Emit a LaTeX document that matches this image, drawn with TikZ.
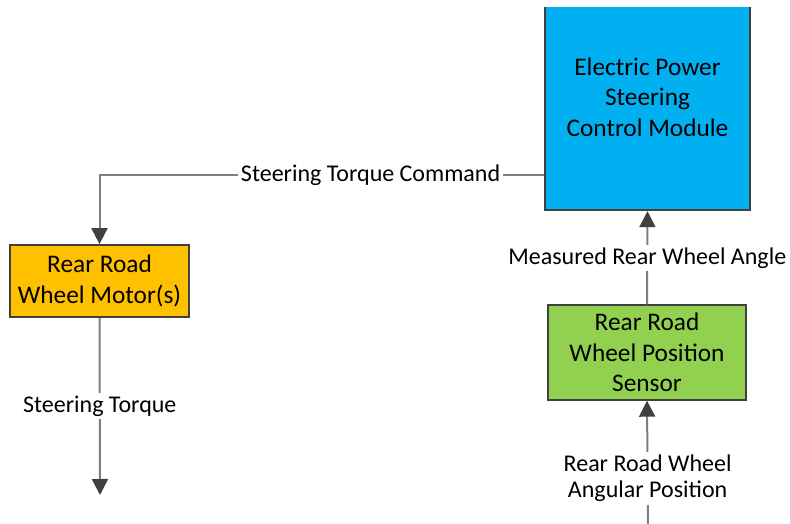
\documentclass[tikz,border=0pt]{standalone}
\usepackage{fontspec}
\setmainfont{Carlito}
\usepackage{xcolor}
\usetikzlibrary{arrows.meta,positioning,calc}

\definecolor{epsblue}{HTML}{00B0F0}
\definecolor{motororange}{HTML}{FFC000}
\definecolor{sensorgreen}{HTML}{92D050}
\definecolor{linegray}{HTML}{7F7F7F}
\definecolor{tipgray}{HTML}{404040}

\begin{document}
\begin{tikzpicture}[
  x=0.75pt, y=-0.75pt,
  box/.style={draw=tipgray, line width=1.3pt, align=center,
              inner sep=0pt, font=\fontsize{19}{23}\selectfont},
  arr/.style={-{Triangle[length=12pt, width=12pt, color=tipgray]},
              draw=linegray, line width=1.5pt},
  lbl/.style={fill=white, inner sep=2pt, align=center,
              font=\fontsize{18}{20}\selectfont}
]
\useasboundingbox (0,0) rectangle (790,524);

% control module (cropped at the top)
\begin{scope}
  \clip (0,8) rectangle (790,524);
  \node[box, fill=epsblue, minimum width=154pt, minimum height=170pt] (eps) at (647.5,97)
    {Electric Power \\ Steering \\ Control Module};
\end{scope}

\node[box, fill=motororange, minimum width=134pt, minimum height=54pt] (motor) at (99.5,281)
  {Rear Road \\ Wheel Motor(s)};
\node[box, fill=sensorgreen, minimum width=148.5pt, minimum height=71pt] (sensor) at (647,352.5)
  {Rear Road \\ Wheel Position \\ Sensor};

\coordinate (torqueout) at (100,495);
\coordinate (anglein) at (648,524);

\draw[arr] ([yshift=27pt]eps.south west) -| node[lbl, pos=0.195]{Steering Torque Command} (motor.north);
\draw[arr] (motor.south) -- node[lbl]{Steering Torque} (torqueout);
\draw[arr] (sensor.north) -- node[lbl]{Measured Rear Wheel Angle} (eps.south);
\draw[arr] (anglein) -- node[lbl, pos=0.37]{Rear Road Wheel \\ Angular Position} (sensor.south);

\end{tikzpicture}
\end{document}
